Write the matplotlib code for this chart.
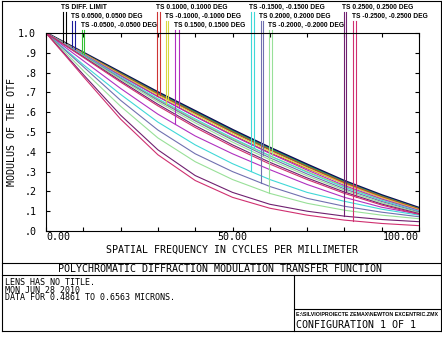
import matplotlib
matplotlib.use('Agg')
import matplotlib.pyplot as plt
from matplotlib.lines import Line2D
import numpy as np

# spatial frequency (cycles/mm) where the curves were read
freq = [0, 10, 20, 30, 40, 50, 60, 70, 80, 90, 100]

# diffraction limit
mtf_dl = [1.0, 0.900, 0.800, 0.700, 0.605, 0.510, 0.420, 0.335, 0.252, 0.180, 0.116]

# tangential curves per field
t_p05 = [1.0, 0.897, 0.795, 0.695, 0.600, 0.505, 0.415, 0.330, 0.250, 0.177, 0.114]
t_m05 = [1.0, 0.895, 0.790, 0.690, 0.595, 0.500, 0.410, 0.325, 0.245, 0.175, 0.112]
t_p10 = [1.0, 0.890, 0.785, 0.680, 0.580, 0.485, 0.395, 0.315, 0.240, 0.170, 0.110]
t_m10 = [1.0, 0.885, 0.770, 0.665, 0.560, 0.465, 0.380, 0.300, 0.225, 0.160, 0.105]
t_p15 = [1.0, 0.860, 0.720, 0.590, 0.480, 0.390, 0.310, 0.235, 0.170, 0.120, 0.085]
t_m15 = [1.0, 0.840, 0.690, 0.550, 0.435, 0.340, 0.260, 0.195, 0.150, 0.110, 0.080]
t_p20 = [1.0, 0.830, 0.660, 0.510, 0.390, 0.300, 0.225, 0.165, 0.125, 0.095, 0.072]
t_m20 = [1.0, 0.810, 0.630, 0.470, 0.350, 0.260, 0.190, 0.140, 0.105, 0.080, 0.062]
t_p25 = [1.0, 0.790, 0.585, 0.410, 0.280, 0.195, 0.135, 0.100, 0.075, 0.058, 0.047]
t_m25 = [1.0, 0.780, 0.565, 0.385, 0.255, 0.170, 0.115, 0.080, 0.055, 0.038, 0.027]

# sagittal curves per field
s_p05 = [1.0, 0.899, 0.798, 0.698, 0.603, 0.508, 0.418, 0.333, 0.250, 0.178, 0.115]
s_m05 = [1.0, 0.898, 0.797, 0.696, 0.600, 0.505, 0.415, 0.330, 0.248, 0.176, 0.113]
s_p10 = [1.0, 0.897, 0.794, 0.692, 0.595, 0.500, 0.410, 0.325, 0.244, 0.173, 0.111]
s_m10 = [1.0, 0.896, 0.790, 0.687, 0.588, 0.493, 0.403, 0.318, 0.238, 0.168, 0.108]
s_p15 = [1.0, 0.893, 0.785, 0.678, 0.578, 0.482, 0.392, 0.308, 0.230, 0.162, 0.104]
s_m15 = [1.0, 0.890, 0.778, 0.668, 0.566, 0.470, 0.380, 0.297, 0.221, 0.155, 0.100]
s_p20 = [1.0, 0.887, 0.772, 0.660, 0.556, 0.460, 0.370, 0.288, 0.213, 0.149, 0.096]
s_m20 = [1.0, 0.884, 0.766, 0.652, 0.546, 0.449, 0.360, 0.279, 0.206, 0.143, 0.092]
s_p25 = [1.0, 0.880, 0.758, 0.640, 0.532, 0.435, 0.347, 0.268, 0.197, 0.136, 0.088]
s_m25 = [1.0, 0.877, 0.752, 0.632, 0.523, 0.426, 0.338, 0.260, 0.190, 0.131, 0.084]

labels = ['DIFF. LIMIT',
          '0.0500, 0.0500 DEG', '-0.0500, -0.0500 DEG',
          '0.1000, 0.1000 DEG', '-0.1000, -0.1000 DEG',
          '0.1500, 0.1500 DEG', '-0.1500, -0.1500 DEG',
          '0.2000, 0.2000 DEG', '-0.2000, -0.2000 DEG',
          '0.2500, 0.2500 DEG', '-0.2500, -0.2500 DEG']
colors = ['#000000', '#1a1a9a', '#33c033', '#cc3333', '#d8d840', '#b030c0',
          '#40d8d8', '#7070b0', '#98e098', '#702070', '#d03070']
# where the T and S marker lines hang from the legend labels
mark_t = [4.5, 7.0, 9.7, 29.8, 32.2, 34.7, 54.9, 57.6, 59.9, 79.8, 82.4]
mark_s = [5.3, 7.9, 10.3, 30.6, 32.7, 35.7, 55.8, 58.3, 60.6, 80.3, 83.1]
label_row = [0, 1, 2, 0, 1, 2, 0, 1, 2, 0, 1]

yticks = [0.0, 0.1, 0.2, 0.3, 0.4, 0.5, 0.6, 0.7, 0.8, 0.9, 1.0]
ytick_labels = ['.0', '.1', '.2', '.3', '.4', '.5', '.6', '.7', '.8', '.9', '1.0']

tcurves = [mtf_dl, t_p05, t_m05, t_p10, t_m10, t_p15, t_m15, t_p20, t_m20, t_p25, t_m25]
scurves = [mtf_dl, s_p05, s_m05, s_p10, s_m10, s_p15, s_m15, s_p20, s_m20, s_p25, s_m25]

W, H = 442, 342
MONO = 'DejaVu Sans Mono'
NARROW = 'Liberation Sans'

fig = plt.figure(figsize=(W / 100, H / 100), dpi=100)
ax = fig.add_axes([46 / W, 1 - 231 / H, 373 / W, 198 / H])

# diffraction limit drawn heavy, the fields on top
ax.plot(freq, mtf_dl, color='#10104a', lw=1.8)
for i in range(1, len(labels)):
    ax.plot(freq, scurves[i], color=colors[i], lw=0.8)
    ax.plot(freq, tcurves[i], color=colors[i], lw=0.8)

# legend rows with hanging marker lines
row_text_y = [1.113, 1.068, 1.023]
row_line_top = [1.106, 1.060, 1.015]
for i in range(len(labels)):
    r = label_row[i]
    vt = np.interp(mark_t[i], freq, tcurves[i])
    vs = np.interp(mark_s[i], freq, scurves[i])
    ax.plot([mark_t[i], mark_t[i]], [vt, row_line_top[r]], color=colors[i], lw=0.8, clip_on=False)
    ax.plot([mark_s[i], mark_s[i]], [vs, row_line_top[r]], color=colors[i], lw=0.8, clip_on=False)
    ax.text(mark_t[i] - 0.4, row_text_y[r], 'TS ' + labels[i], family=NARROW,
            fontweight='bold', fontsize=4.8, ha='left', va='bottom')

ax.set_xlim(0, 100)
ax.set_ylim(0, 1)
ax.set_xticks(np.arange(0, 101, 10))
ax.set_xticklabels(['0.00', '', '', '', '', '50.00', '', '', '', '', '100.00'])
ax.set_yticks(yticks)
ax.set_yticklabels(ytick_labels)
ax.tick_params(direction='in', length=3, width=0.8, top=True, right=True,
               labelsize=7.2, pad=1)
ax.tick_params(axis='y', pad=7)
for lab in ax.get_xticklabels():
    lab.set_family(MONO)
for lab in ax.get_yticklabels():
    lab.set_family(MONO)
xl = ax.get_xticklabels()
xl[0].set_ha('left')
xl[-1].set_ha('right')
for sp in ax.spines.values():
    sp.set_linewidth(0.8)

ax.set_xlabel('SPATIAL FREQUENCY IN CYCLES PER MILLIMETER', family=MONO, fontsize=7.2, labelpad=2)
ax.set_ylabel('MODULUS OF THE OTF', family=MONO, fontsize=7.2, labelpad=1)


def hline(y, x0, x1):
    fig.add_artist(Line2D([x0 / W, x1 / W], [1 - y / H, 1 - y / H], color='black', lw=0.8))


def vline(x, y0, y1):
    fig.add_artist(Line2D([x / W, x / W], [1 - y0 / H, 1 - y1 / H], color='black', lw=0.8))


# frame and info boxes
hline(0.5, 2, 440.5)
hline(331, 2, 440.5)
vline(2, 0.5, 331)
vline(440.5, 0.5, 331)
hline(262.5, 2, 440.5)
hline(275, 2, 440.5)
vline(294, 275, 331)
hline(309, 294, 440.5)

fig.text(220 / W, 1 - 269 / H, 'POLYCHROMATIC DIFFRACTION MODULATION TRANSFER FUNCTION',
         family=MONO, fontsize=7.2, ha='center', va='center')
fig.text(5 / W, 1 - 282.5 / H, 'LENS HAS NO TITLE.', family=MONO, fontsize=6.0, va='center')
fig.text(5 / W, 1 - 290.3 / H, 'MON JUN 28 2010', family=MONO, fontsize=6.0, va='center')
fig.text(5 / W, 1 - 298 / H, 'DATA FOR 0.4861 TO 0.6563 MICRONS.', family=MONO, fontsize=6.0, va='center')
fig.text(295.5 / W, 1 - 315 / H, 'E:\\SILVIO\\PROIECTE ZEMAX\\NEWTON EXCENTRIC.ZMX',
         family=NARROW, fontweight='bold', fontsize=3.8, va='center')
fig.text(296 / W, 1 - 325 / H, 'CONFIGURATION 1 OF 1', family=MONO, fontsize=7.2, va='center')

fig.savefig('out.png', dpi=100)
